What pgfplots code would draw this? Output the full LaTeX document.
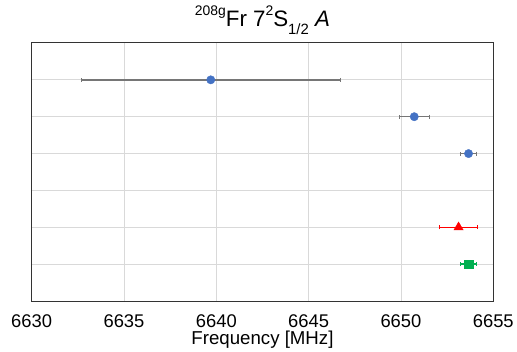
\documentclass[border={8pt 0pt 0pt 3pt}]{standalone}
\usepackage{fontspec}
\setmainfont{Liberation Sans}
\usepackage{pgfplots}
\pgfplotsset{compat=1.18}
\definecolor{ptblue}{HTML}{4472C4}
\definecolor{ptgreen}{HTML}{00B050}
\definecolor{ebgray}{HTML}{767676}
\newcommand{\sups}[1]{\raisebox{11pt}{\fontsize{14}{14}\selectfont #1}}
\newcommand{\subs}[1]{\raisebox{-7.5pt}{\fontsize{15}{15}\selectfont #1}}
\begin{document}
\begin{tikzpicture}
\begin{axis}[
  scale only axis, width=465pt, height=260pt,
  xmin=6630, xmax=6655, ymin=0, ymax=7,
  xtick={6630,6635,...,6655}, ytick={1,...,6}, yticklabels={},
  xmajorgrids, ymajorgrids, grid style={draw=black!15, line width=0.8pt},
  major tick length=0pt,
  axis line style={draw=black!80, line width=1pt},
  tick label style={font=\fontsize{18.5}{18.5}\selectfont},
  xticklabel style={yshift=-10pt},
  /pgf/number format/assume math mode=true,
  /pgf/number format/1000 sep={},
  xlabel={Frequency [MHz]},
  xlabel style={font=\fontsize{18.8}{18.8}\selectfont, yshift=3.5pt},
  title={\sups{208g}Fr 7\sups{2}S\subs{1/2} \textit{A}},
  title style={font=\fontsize{22.5}{22.5}\selectfont, yshift=-1pt},
  clip=false,
]
\addplot[ebgray, only marks, mark=*, mark size=4.2pt, mark options={fill=ptblue, draw=ptblue},
  error bars/.cd, x dir=both, x explicit, error mark=|,
  error bar style={draw=ebgray, line width=1.4pt},
  error mark options={draw=ebgray, line width=1pt, mark size=2pt}]
  coordinates {
  (6639.7,6) +- (7.0,0)
  (6650.72,5) +- (0.8,0)
  (6653.66,4) +- (0.42,0)
  };
\addplot[red, only marks, mark=triangle*, mark size=5.4pt, mark options={fill=red, draw=red},
  error bars/.cd, x dir=both, x explicit, error mark=|,
  error bar style={draw=red, line width=1.4pt},
  error mark options={draw=red, line width=1pt, mark size=2pt}]
  coordinates {
  (6653.12,2) +- (1.03,0)
  };
\addplot[ptgreen, only marks, mark=square*, mark size=4.3pt, mark options={fill=ptgreen, draw=ptgreen},
  error bars/.cd, x dir=both, x explicit, error mark=|,
  error bar style={draw=ptgreen, line width=1.4pt},
  error mark options={draw=ptgreen, line width=1pt, mark size=2pt}]
  coordinates {
  (6653.67,1) +- (0.43,0)
  };
\end{axis}
\end{tikzpicture}
\end{document}
